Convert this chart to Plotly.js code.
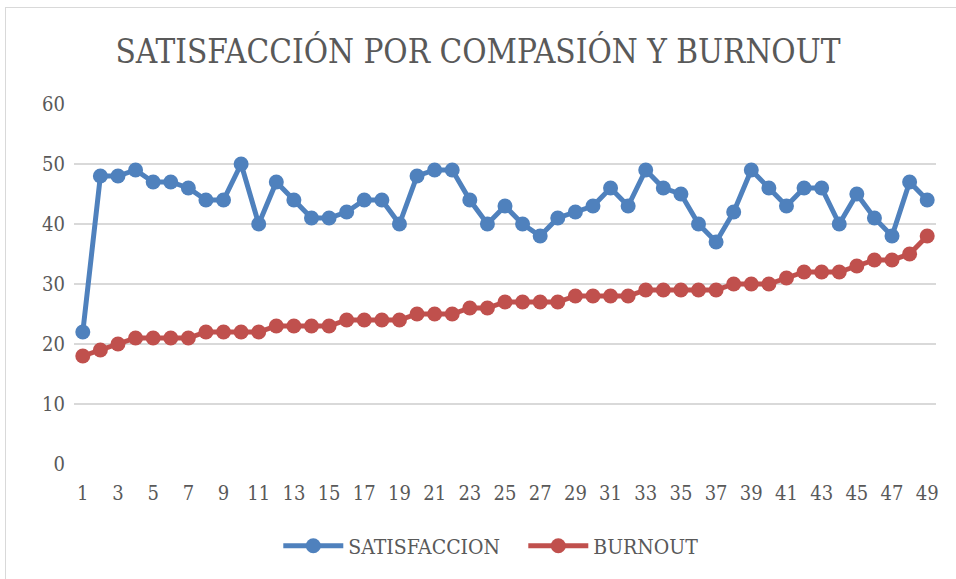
<!DOCTYPE html>
<html><head><meta charset="utf-8">
<script src="https://cdn.plot.ly/plotly-3.0.1.min.js"></script>
<style>html,body{margin:0;padding:0;background:#fff;}#chart{width:956px;height:579px;}
#frame{position:absolute;left:5px;top:7px;width:960px;height:600px;border:1px solid #d9d9d9;pointer-events:none;}</style>
</head><body>
<div id="chart"></div><div id="frame"></div>
<script>
const categories = Array.from({length:49},(_,i)=>i+1);
const satisfaccion = [22,48,48,49,47,47,46,44,44,50,40,47,44,41,41,42,44,44,40,48,49,49,44,40,43,40,38,41,42,43,46,43,49,46,45,40,37,42,49,46,43,46,46,40,45,41,38,47,44];
const burnout = [18,19,20,21,21,21,21,22,22,22,22,23,23,23,23,24,24,24,24,25,25,25,26,26,27,27,27,27,28,28,28,28,29,29,29,29,29,30,30,30,31,32,32,32,33,34,34,35,38];
const tickVals = categories.filter(v=>v%2===1);
const tickText = tickVals.map(String);
const serif = 'DejaVu Serif Condensed, DejaVu Serif, serif';
const traces = [
 {x:categories,y:satisfaccion,name:'SATISFACCION',type:'scatter',mode:'lines+markers',
  line:{color:'#4F81BD',width:5},marker:{color:'#4F81BD',size:15}},
 {x:categories,y:burnout,name:'BURNOUT',type:'scatter',mode:'lines+markers',
  line:{color:'#C0504D',width:5},marker:{color:'#C0504D',size:15}}
];
const layout = {
 width:956,height:579,margin:{l:74,r:20,t:104,b:115},
 paper_bgcolor:'#fff',plot_bgcolor:'#fff',
 font:{family:serif,color:'#595959',size:20},
 title:{text:'SATISFACCIÓN POR COMPASIÓN Y BURNOUT',font:{family:serif,size:33,color:'#595959'},x:0.5,xanchor:'center',y:0.912,yanchor:'middle'},
 xaxis:{range:[0.5,49.5],tickvals:tickVals,ticktext:tickText,showgrid:false,zeroline:false,showline:false,ticks:'',tickfont:{family:serif,size:20},ticklabelstandoff:15},
 yaxis:{range:[0,60],dtick:10,gridcolor:'#d9d9d9',gridwidth:1.6,zeroline:false,showline:false,ticks:'',tickfont:{family:serif,size:20},ticklabelstandoff:8},
 showlegend:true,
 legend:{orientation:'h',x:0.237,xanchor:'left',y:-0.228,yanchor:'middle',font:{family:serif,size:21},itemwidth:60,entrywidth:170,entrywidthmode:'pixels'}
};
Plotly.newPlot('chart',traces,layout,{displayModeBar:false,staticPlot:true});
</script></body></html>
